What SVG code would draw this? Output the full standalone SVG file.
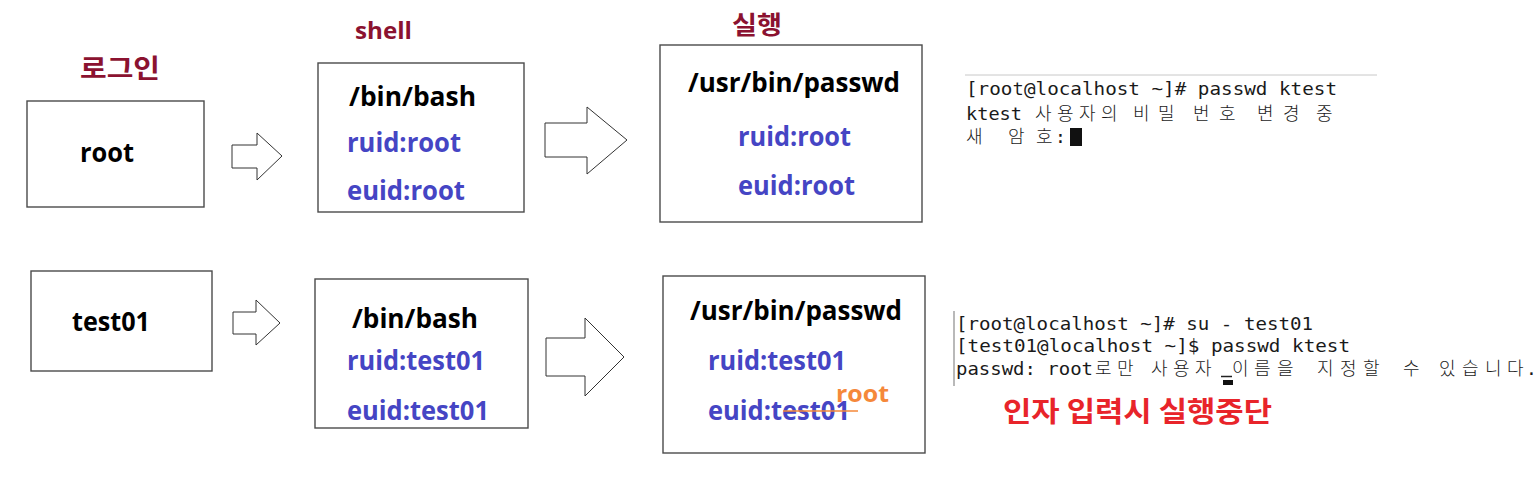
<svg xmlns="http://www.w3.org/2000/svg" width="1537" height="477" viewBox="0 0 1537 477">
<style>
.bg{fill:#ffffff}
.box{fill:#ffffff;stroke:#4a4a4a;stroke-width:1.4}
.arr{fill:#ffffff;stroke:#333333;stroke-width:1}
.lbl{font-family:"Open Sans","Noto Sans CJK KR",sans-serif;font-weight:700;font-size:26px;fill:#000000}
.blue{fill:#4545c4}
.title{font-family:"Noto Sans CJK KR","Open Sans",sans-serif;font-weight:700;fill:#8b1230}
.shell{font-family:"Open Sans","Noto Sans CJK KR",sans-serif;font-weight:700;font-size:24px;fill:#8b1230}
.term{font-family:"DejaVu Sans Mono","Noto Sans CJK KR",monospace;font-size:18px;fill:#1a1a1a}
.termk{font-family:"Noto Sans CJK KR",sans-serif;font-size:18px;font-weight:300;fill:#1a1a1a}
.orange{font-family:"Open Sans",sans-serif;font-weight:700;font-size:24px;fill:#f5883a}
.red{font-family:"Noto Sans CJK KR",sans-serif;font-weight:700;font-size:28px;fill:#e8242a}
</style>
<rect class="bg" x="0" y="0" width="1537" height="477"/>

<g id="label-login"><text class="title" x="80" y="78" font-size="26" textLength="80" lengthAdjust="spacingAndGlyphs">로그인</text></g>
<g id="label-shell"><text class="shell" x="355" y="39" textLength="57" lengthAdjust="spacingAndGlyphs">shell</text></g>
<g id="label-exec"><text class="title" x="732" y="34" font-size="25" textLength="50" lengthAdjust="spacingAndGlyphs">실행</text></g>

<g id="node-root">
<rect class="box" x="27" y="101" width="177" height="106"/>
<text class="lbl" x="80" y="162" textLength="54" lengthAdjust="spacingAndGlyphs">root</text>
</g>
<g id="node-bash-root">
<rect class="box" x="318" y="63" width="206" height="149"/>
<text class="lbl" x="349" y="106" textLength="127" lengthAdjust="spacingAndGlyphs">/bin/bash</text>
<text class="lbl blue" x="347" y="152" textLength="114" lengthAdjust="spacingAndGlyphs">ruid:root</text>
<text class="lbl blue" x="347" y="200" textLength="118" lengthAdjust="spacingAndGlyphs">euid:root</text>
</g>
<g id="node-passwd-root">
<rect class="box" x="660" y="45" width="262" height="177"/>
<text class="lbl" x="688" y="92" textLength="212" lengthAdjust="spacingAndGlyphs">/usr/bin/passwd</text>
<text class="lbl blue" x="738" y="146" textLength="113" lengthAdjust="spacingAndGlyphs">ruid:root</text>
<text class="lbl blue" x="738" y="195" textLength="117" lengthAdjust="spacingAndGlyphs">euid:root</text>
</g>

<g id="node-test01">
<rect class="box" x="31" y="271" width="181" height="100"/>
<text class="lbl" x="72" y="331" textLength="78" lengthAdjust="spacingAndGlyphs">test01</text>
</g>
<g id="node-bash-test01">
<rect class="box" x="315" y="279" width="213" height="149"/>
<text class="lbl" x="352" y="328" textLength="126" lengthAdjust="spacingAndGlyphs">/bin/bash</text>
<text class="lbl blue" x="347" y="370" textLength="138" lengthAdjust="spacingAndGlyphs">ruid:test01</text>
<text class="lbl blue" x="347" y="420" textLength="142" lengthAdjust="spacingAndGlyphs">euid:test01</text>
</g>
<g id="node-passwd-test01">
<rect class="box" x="663" y="276" width="262" height="177"/>
<text class="lbl" x="690" y="320" textLength="212" lengthAdjust="spacingAndGlyphs">/usr/bin/passwd</text>
<text class="lbl blue" x="708" y="370" textLength="138" lengthAdjust="spacingAndGlyphs">ruid:test01</text>
<text class="lbl blue" x="708" y="420" textLength="142" lengthAdjust="spacingAndGlyphs">euid:test01</text>
<line x1="783" y1="411" x2="858" y2="411" stroke="#f5883a" stroke-width="1.5"/>
<text class="orange" x="836" y="402" textLength="53" lengthAdjust="spacingAndGlyphs">root</text>
</g>

<g id="connectors">
<polygon class="arr" points="232,145 257,145 257,133 282,156 257,180 257,168 232,168"/>
<polygon class="arr" points="545,123 587,123 587,107 627,140 587,174 587,157 545,157"/>
<polygon class="arr" points="233,312 256,312 256,300 280,323 256,345 256,334 233,334"/>
<polygon class="arr" points="546,338 585,338 585,318 624,357 585,396 585,376 546,376"/>
</g>

<g id="terminal-top">
<line x1="965" y1="75" x2="1377" y2="75" stroke="#c8c8c8" stroke-width="1"/>
<text class="term" x="966" y="95" textLength="371" lengthAdjust="spacingAndGlyphs">[root@localhost ~]# passwd ktest</text>
<text class="term" x="966" y="120" textLength="56" lengthAdjust="spacingAndGlyphs">ktest</text>
<text class="termk" x="1035 1057 1079 1101 1133 1158 1193 1219 1257 1283 1316" y="120">사용자의비밀번호변경중</text>
<text class="termk" x="966 1008 1036" y="143">새암호</text>
<text class="term" x="1055" y="143">:</text>
<rect x="1070" y="128" width="12" height="18" fill="#111111"/>
</g>

<g id="terminal-bottom">
<line x1="954" y1="311" x2="954" y2="386" stroke="#8a8a8a" stroke-width="1.2"/>
<text class="term" x="956" y="330" textLength="357" lengthAdjust="spacingAndGlyphs">[root@localhost ~]# su - test01</text>
<text class="term" x="956" y="352" textLength="394" lengthAdjust="spacingAndGlyphs">[test01@localhost ~]$ passwd ktest</text>
<text class="term" x="956" y="375" textLength="137" lengthAdjust="spacingAndGlyphs">passwd: root</text>
<text class="termk" x="1095 1117 1151 1173 1195 1232 1254 1277 1317 1340 1363 1403 1439 1462 1485 1507" y="375">로만사용자이름을지정할수있습니다</text>
<text class="term" x="1526" y="375">.</text>
<line x1="1221" y1="376.5" x2="1232" y2="376.5" stroke="#222222" stroke-width="1.5"/>
<rect x="1223" y="380" width="10" height="5" fill="#111111"/>
</g>

<g id="note"><text class="red" x="1003" y="422" textLength="269" lengthAdjust="spacingAndGlyphs">인자 입력시 실행중단</text></g>
</svg>
